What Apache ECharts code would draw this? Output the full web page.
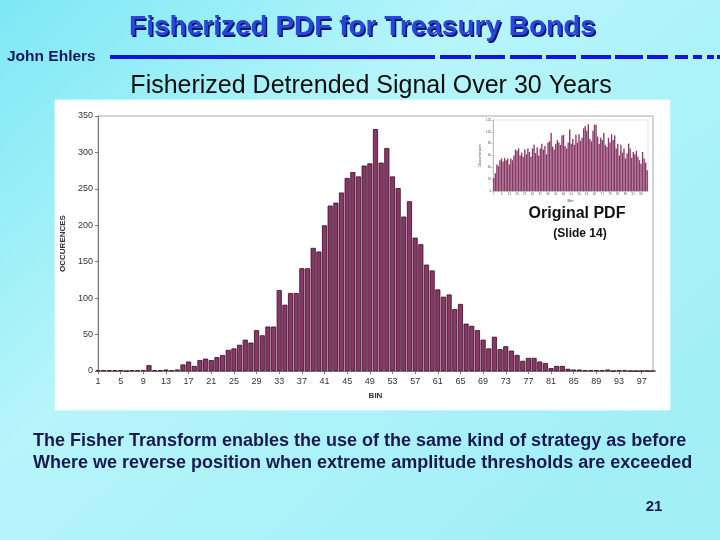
<!DOCTYPE html>
<html><head><meta charset="utf-8">
<script src="https://cdn.jsdelivr.net/npm/echarts@6/dist/echarts.min.js"></script>
<style>html,body{margin:0;padding:0;background:#fff}#c{width:720px;height:540px}</style>
</head><body><div id="c"></div>
<script>
// Main histogram: bins 1..99
const mainBins = Array.from({length: 99}, (_, i) => String(i + 1));
const mainCounts = [
  1, 1, 1, 1, 1, 0, 1, 1, 1, 8,
  1, 1, 2, 1, 2, 9, 13, 7, 15, 17,
  15, 19, 22, 29, 31, 36, 43, 39, 56, 49,
  61, 61, 111, 91, 107, 107, 141, 141, 169, 164,
  200, 227, 231, 245, 265, 273, 267, 282, 285, 332,
  286, 306, 267, 251, 212, 233, 183, 174, 146, 138,
  112, 102, 105, 85, 92, 65, 62, 56, 43, 31,
  47, 30, 34, 28, 22, 14, 18, 18, 13, 11,
  4, 7, 7, 3, 2, 2, 1, 1, 1, 1,
  2, 0, 1, 1, 0, 0, 0, 0, 0
];
const mainYTicks = [0, 50, 100, 150, 200, 250, 300, 350];

// Inset: original PDF (slide 14), bins 1..100
const insetBins = Array.from({length: 100}, (_, i) => String(i + 1));
const insetCounts = [
  22, 30, 45, 42, 52, 55, 50, 56, 52, 55,
  45, 55, 52, 60, 70, 68, 72, 60, 65, 58,
  70, 62, 72, 66, 58, 72, 78, 64, 74, 60,
  72, 80, 70, 76, 62, 82, 84, 98, 75, 70,
  80, 86, 82, 78, 94, 95, 76, 72, 82, 104,
  80, 88, 78, 95, 82, 96, 85, 90, 106, 110,
  102, 113, 88, 84, 102, 112, 112, 92, 80, 90,
  86, 98, 78, 75, 90, 82, 96, 86, 94, 72,
  80, 60, 78, 65, 72, 55, 64, 80, 72, 56,
  66, 62, 68, 58, 52, 46, 66, 55, 48, 35
];

const FF = '"Liberation Sans", Arial, sans-serif';
const barFill = '#883865';
const barEdge = '#3a0b27';

// decorative header rule (solid part then dashes)
const ruleSegs = [[110,435],[440,471],[475,505],[510,542],[546,576],[581,611],[615,643],[647,668],[675,688],[693,702],[707,714],[717,720]];
const graphic = [
  {type:'rect', z:-10, shape:{x:55,y:100,width:615,height:310}, style:{fill:'#ffffff', stroke:'#e6fbfd', lineWidth:1}},
  {type:'text', x:364, y:29, style:{text:'Fisherized PDF for Treasury Bonds', font:'bold 28px ' + FF, fill:'#0c176a', textAlign:'center', textVerticalAlign:'middle'}},
  {type:'text', x:362.5, y:27.5, style:{text:'Fisherized PDF for Treasury Bonds', font:'bold 28px ' + FF, fill:'#2846dc', textAlign:'center', textVerticalAlign:'middle'}},
  {type:'text', x:7, y:57, style:{text:'John Ehlers', font:'bold 15.5px ' + FF, fill:'#16165a', textAlign:'left', textVerticalAlign:'middle'}},
  {type:'text', x:371, y:86, style:{text:'Fisherized Detrended Signal Over 30 Years', font:'25px ' + FF, fill:'#0e0e0e', textAlign:'center', textVerticalAlign:'middle'}},
  {type:'text', x:577, y:214, style:{text:'Original PDF', font:'bold 16px ' + FF, fill:'#111111', textAlign:'center', textVerticalAlign:'middle'}},
  {type:'text', x:580, y:234, style:{text:'(Slide 14)', font:'bold 12px ' + FF, fill:'#111111', textAlign:'center', textVerticalAlign:'middle'}},
  {type:'text', x:33, y:441, style:{text:'The Fisher Transform enables the use of the same kind of strategy as before', font:'bold 18px ' + FF, fill:'#19194f', textAlign:'left', textVerticalAlign:'middle'}},
  {type:'text', x:33, y:463, style:{text:'Where we reverse position when extreme amplitude thresholds are exceeded', font:'bold 18px ' + FF, fill:'#19194f', textAlign:'left', textVerticalAlign:'middle'}},
  {type:'text', x:654, y:507, style:{text:'21', font:'bold 15px ' + FF, fill:'#19194f', textAlign:'center', textVerticalAlign:'middle'}}
];
ruleSegs.forEach(s => graphic.push({type:'rect', shape:{x:s[0], y:55, width:s[1]-s[0], height:4}, style:{fill:'#1414dc'}}));

const chart = echarts.init(document.getElementById('c'), null, {renderer:'canvas'});
chart.setOption({
  animation: false,
  backgroundColor: {type:'linear', x:0, y:0, x2:0.7, y2:1, colorStops:[
    {offset:0, color:'#7de8f5'}, {offset:0.45, color:'#b6f5fa'}, {offset:1, color:'#a3eff8'}]},
  graphic: graphic,
  grid: [
    {left:98, top:116, width:555, height:255, show:true, backgroundColor:'#ffffff', borderColor:'#a8a8a8', borderWidth:1},
    {left:493, top:120, width:155, height:71, show:true, backgroundColor:'#ffffff', borderColor:'#c8c8c8', borderWidth:0.5, z:3}
  ],
  xAxis: [
    {type:'category', gridIndex:0, data:mainBins, boundaryGap:false,
     axisLine:{lineStyle:{color:'#7a7a7a'}},
     axisTick:{interval:3, length:3, lineStyle:{color:'#7a7a7a'}},
     axisLabel:{interval:3, fontSize:9, color:'#333', fontFamily:FF, margin:6},
     name:'BIN', nameLocation:'middle', nameGap:21,
     nameTextStyle:{fontSize:8, fontWeight:'bold', color:'#333', fontFamily:FF}},
    {type:'category', gridIndex:1, data:insetBins, z:4,
     axisLine:{lineStyle:{color:'#999', width:0.6}},
     axisTick:{interval:4, length:1.5, lineStyle:{color:'#999', width:0.5}},
     axisLabel:{interval:4, fontSize:3, color:'#555', margin:2},
     name:'Bin', nameLocation:'middle', nameGap:8,
     nameTextStyle:{fontSize:4, color:'#444'}}
  ],
  yAxis: [
    {type:'value', gridIndex:0, min:mainYTicks[0], max:mainYTicks[mainYTicks.length-1], interval:50,
     axisLine:{show:true, lineStyle:{color:'#7a7a7a'}},
     axisTick:{show:true, length:3, lineStyle:{color:'#7a7a7a'}},
     splitLine:{show:false},
     axisLabel:{fontSize:9, color:'#333', fontFamily:FF, margin:5},
     name:'OCCURENCES', nameLocation:'middle', nameGap:28, nameRotate:90,
     nameTextStyle:{fontSize:8, fontWeight:'bold', color:'#333', fontFamily:FF}},
    {type:'value', gridIndex:1, min:0, max:120, interval:20, z:4,
     axisLine:{show:true, lineStyle:{color:'#999', width:0.6}},
     axisTick:{show:true, length:1.5, lineStyle:{color:'#999', width:0.5}},
     splitLine:{show:false},
     axisLabel:{fontSize:3, color:'#555', margin:2},
     name:'Occurrences', nameLocation:'middle', nameGap:7, nameRotate:90,
     nameTextStyle:{fontSize:4, color:'#444'}}
  ],
  series: [
    {type:'bar', xAxisIndex:0, yAxisIndex:0, data:mainCounts, barCategoryGap:'10%',
     itemStyle:{color:barFill, borderColor:barEdge, borderWidth:0.8}},
    {type:'bar', xAxisIndex:1, yAxisIndex:1, data:insetCounts, barCategoryGap:'12%', z:5,
     itemStyle:{color:barFill}}
  ]
});
</script>
</body></html>
